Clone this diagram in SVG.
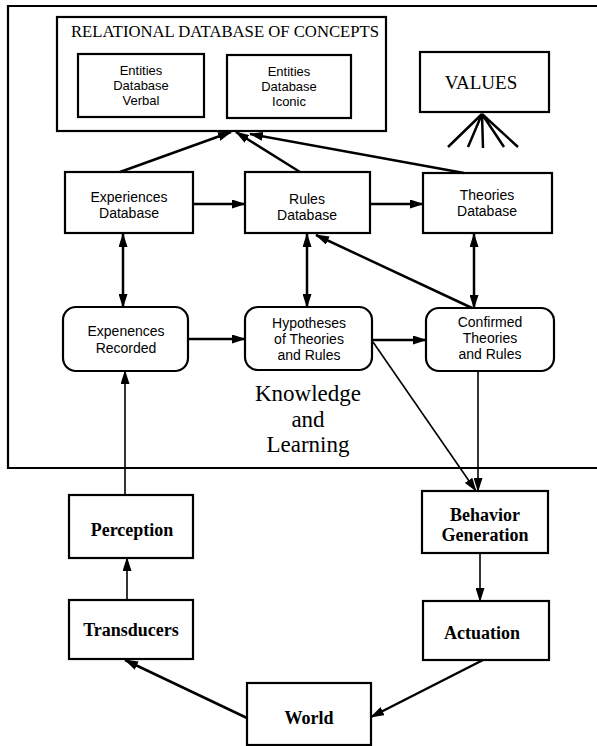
<svg xmlns="http://www.w3.org/2000/svg" width="597" height="746" viewBox="0 0 597 746">
<defs>
<style>
.box{fill:#fff;stroke:#000;stroke-width:2.2}
.frame{fill:none;stroke:#000;stroke-width:2.2}
.lab{font-family:"Liberation Sans",Arial,sans-serif;font-size:14px;text-anchor:middle;fill:#000}
.sm{font-size:13px}
.big{font-family:"Liberation Serif","Times New Roman",serif;font-weight:bold;font-size:18px;text-anchor:middle;fill:#000}
.ser{font-family:"Liberation Serif","Times New Roman",serif;text-anchor:middle;fill:#000}
.c{fill:none;stroke:#000;stroke-width:2.5}
.t{fill:none;stroke:#000;stroke-width:1.6}
.a{marker-end:url(#ah)}
.d{marker-start:url(#ah);marker-end:url(#ah)}
</style>
<marker id="ah" markerUnits="userSpaceOnUse" markerWidth="14" markerHeight="9" refX="13" refY="4.5" orient="auto-start-reverse" viewBox="0 0 14 9">
<path d="M0,0 L14,4.5 L0,9 z" fill="#000"/>
</marker>
</defs>
<rect width="597" height="746" fill="#fff"/>
<g id="knowledge-frame">
<path class="frame" d="M597,6 H8 V468 H597"/>
<text class="ser" font-size="23" x="308" y="401">Knowledge</text>
<text class="ser" font-size="23" x="308" y="427">and</text>
<text class="ser" font-size="23" x="308" y="452">Learning</text>
</g>
<g id="relational-db">
<rect class="box" x="57" y="17" width="329" height="114"/>
<text class="ser" font-size="16" x="225" y="37" textLength="308" lengthAdjust="spacingAndGlyphs">RELATIONAL DATABASE OF CONCEPTS</text>
</g>
<g id="entities-verbal">
<rect class="box" x="78" y="54" width="126" height="63"/>
<text class="lab sm" x="141" y="75">Entities</text>
<text class="lab sm" x="141" y="90">Database</text>
<text class="lab sm" x="141" y="105">Verbal</text>
</g>
<g id="entities-iconic">
<rect class="box" x="227" y="55" width="124" height="63"/>
<text class="lab sm" x="289" y="76">Entities</text>
<text class="lab sm" x="289" y="91">Database</text>
<text class="lab sm" x="289" y="106">Iconic</text>
</g>
<g id="values">
<rect class="box" x="420" y="52" width="129" height="60"/>
<text class="ser" font-size="19" x="481" y="89">VALUES</text>
<path class="c" d="M482,114 L448,147 M482,114 L468,147 M482,114 L483,148 M482,114 L504,147 M482,114 L518,147"/>
</g>
<g id="experiences-db">
<rect class="box" x="65" y="172" width="128" height="61"/>
<text class="lab" x="129" y="202">Experiences</text>
<text class="lab" x="129" y="218">Database</text>
</g>
<g id="rules-db">
<rect class="box" x="245" y="172" width="125" height="61"/>
<text class="lab" x="307" y="204">Rules</text>
<text class="lab" x="307" y="220">Database</text>
</g>
<g id="theories-db">
<rect class="box" x="423" y="173" width="129" height="60"/>
<text class="lab" x="487" y="200">Theories</text>
<text class="lab" x="487" y="216">Database</text>
</g>
<g id="experiences-recorded">
<rect class="box" x="63" y="307" width="125" height="64" rx="13"/>
<text class="lab" x="126" y="336">Expenences</text>
<text class="lab" x="126" y="353">Recorded</text>
</g>
<g id="hypotheses">
<rect class="box" x="245" y="307" width="127" height="63" rx="13"/>
<text class="lab" x="309" y="328">Hypotheses</text>
<text class="lab" x="309" y="344">of Theories</text>
<text class="lab" x="309" y="360">and Rules</text>
</g>
<g id="confirmed">
<rect class="box" x="426" y="308" width="128" height="63" rx="13"/>
<text class="lab" x="490" y="327">Confirmed</text>
<text class="lab" x="490" y="343">Theories</text>
<text class="lab" x="490" y="359">and Rules</text>
</g>
<g id="perception">
<rect class="box" x="69" y="495" width="124" height="63"/>
<text class="big" x="132" y="536">Perception</text>
</g>
<g id="transducers">
<rect class="box" x="69" y="600" width="124" height="59"/>
<text class="big" x="131" y="636">Transducers</text>
</g>
<g id="behavior-generation">
<rect class="box" x="422" y="491" width="126" height="62"/>
<text class="big" x="485" y="521">Behavior</text>
<text class="big" x="485" y="541">Generation</text>
</g>
<g id="actuation">
<rect class="box" x="423" y="601" width="126" height="59"/>
<text class="big" x="482" y="639">Actuation</text>
</g>
<g id="world">
<rect class="box" x="247" y="683" width="124" height="62"/>
<text class="big" x="309" y="724">World</text>
</g>
<g id="connectors">
<path class="c a" d="M120,172 L231,132"/>
<path class="c a" d="M300,172 L236,132"/>
<path class="c a" d="M464,173 L250,134"/>
<path class="c a" d="M193,204 L245,204"/>
<path class="c a" d="M370,204 L423,204"/>
<path class="c d" d="M123,234 L123,307"/>
<path class="c d" d="M307,234 L307,307"/>
<path class="c d" d="M474,234 L474,308"/>
<path class="c a" d="M472,308 L316,235"/>
<path class="c a" d="M188,339 L245,339"/>
<path class="c a" d="M372,340 L426,340"/>
<path class="t a" d="M373,342 L476,491"/>
<path class="t a" d="M478,371 L478,491"/>
<path class="t a" d="M125,495 L125,371"/>
<path class="t a" d="M127,600 L127,558"/>
<path class="t a" d="M480,553 L480,601"/>
<path class="c a" d="M483,660 L371,717"/>
<path class="c a" d="M247,718 L125,660"/>
</g>
</svg>
